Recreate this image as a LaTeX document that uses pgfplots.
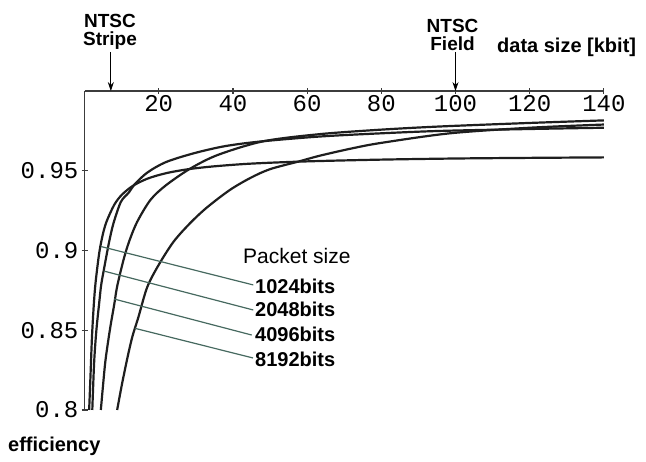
\documentclass[border=0pt]{standalone}
\usepackage{pgfplots}
\pgfplotsset{compat=1.18}
\usepackage{fontspec}
\setmainfont{Liberation Sans}
\setmonofont{Liberation Mono}
\usetikzlibrary{arrows.meta}
\definecolor{curve}{RGB}{30,30,30}
\definecolor{axisgray}{RGB}{60,60,60}
\definecolor{leader}{RGB}{70,105,95}
\begin{document}
\begin{tikzpicture}
\begin{axis}[
  scale only axis, width=519.5pt, height=319pt,
  xmin=0, xmax=140, ymin=0.8, ymax=1.0,
  axis x line=top, axis y line=left,
  axis line style={-, line width=1.3pt, color=axisgray},
  every inner x axis line/.append style={-},
  every outer x axis line/.append style={-},
  every inner y axis line/.append style={-},
  every outer y axis line/.append style={-},
  xtick={20,40,60,80,100,120,140},
  xticklabels={20,40,60,80,100,120,140},
  ytick={0.8,0.85,0.9,0.95},
  yticklabels={0.8,0.85,0.9,0.95},
  tick align=center, major tick length=6pt,
  tick style={line width=1.2pt, color=axisgray},
  /pgf/number format/assume math mode=true,
  xticklabel style={anchor=north, inner sep=0pt, yshift=-7pt, font=\ttfamily\fontsize{24}{24}\selectfont},
  yticklabel style={anchor=east, inner sep=0pt, xshift=-3pt, font=\ttfamily\fontsize{24}{24}\selectfont},
  clip=false,
]
% invisible frame fixing the picture size
\path (axis cs:-22.78,1.0571) rectangle (axis cs:151.35,0.7674);

% 1024 bits
\addplot[curve, line width=2.2pt, smooth] coordinates {
(1.25,0.800) (1.6,0.8206) (2,0.8452) (2.5,0.8659) (3,0.8803) (4,0.8990) (5,0.9107) (6,0.9185) (8,0.9286) (10,0.9348) (13,0.9405) (17,0.9451) (22,0.9485) (28,0.9510) (35,0.9528) (45,0.9545) (60,0.9559) (80,0.9570) (100,0.9577) (120,0.9581) (140,0.9584)};
% 2048 bits
\addplot[curve, line width=2.2pt, smooth] coordinates {
(2.1,0.800) (2.6,0.830) (3.2,0.850) (4,0.868) (4.5,0.8785) (5.3,0.889) (6.6,0.905) (7.8,0.917) (9.8,0.9305) (12,0.9365) (13.5,0.9415) (17,0.949) (22,0.9555) (29.5,0.961) (38,0.9655) (48,0.9685) (63.5,0.9715) (80,0.9735) (96,0.975) (120,0.9762) (140,0.977)};
% 4096 bits
\addplot[curve, line width=2.2pt, smooth] coordinates {
(4.4,0.800) (5.5,0.828) (6.3,0.842) (7.1,0.854) (8,0.866) (8.8,0.8775) (10.5,0.894) (12,0.9055) (14.2,0.918) (17.8,0.9318) (22,0.941) (28.6,0.9515) (36,0.960) (48.2,0.9685) (63.5,0.973) (80,0.9758) (96,0.9778) (120,0.980) (140,0.9816)};
% 8192 bits
\addplot[curve, line width=2.2pt, smooth] coordinates {
(8.8,0.800) (10,0.815) (11.5,0.832) (12.9,0.846) (14.5,0.858) (16.9,0.877) (20,0.891) (24,0.9055) (28.4,0.917) (33,0.927) (39.2,0.938) (44.7,0.9455) (50,0.951) (58,0.956) (63.5,0.9595) (72,0.964) (80,0.9675) (98.5,0.9735) (120,0.977) (140,0.979)};

% leader lines
\addplot[leader, line width=1.2pt] coordinates {(4.45,0.9025) (45.5,0.8784)};
\addplot[leader, line width=1.2pt] coordinates {(5.26,0.8871) (45.5,0.8627)};
\addplot[leader, line width=1.2pt] coordinates {(7.95,0.8696) (45.07,0.8470)};
\addplot[leader, line width=1.2pt] coordinates {(13.61,0.8512) (45.42,0.8326)};

% NTSC arrows
\draw[line width=1pt, -{Stealth[length=9pt,width=6pt]}] (axis cs:7.1,1.0245) -- (axis cs:7.1,1.0);
\draw[line width=1pt, -{Stealth[length=9pt,width=6pt]}] (axis cs:100,1.0245) -- (axis cs:100,1.0);

\tikzset{lab/.style={inner sep=0pt, font=\bfseries\fontsize{20}{20}\selectfont}}
\node[lab, anchor=south, align=center, font=\bfseries\fontsize{19}{17.5}\selectfont] at (axis cs:6.87,1.0262) {NTSC\\Stripe};
\node[lab, anchor=south, align=center, font=\bfseries\fontsize{19}{17.5}\selectfont] at (axis cs:99.2,1.0255) {NTSC\\Field};
\node[lab, anchor=base west] at (axis cs:111.19,1.02445) {data size [kbit]};
\node[lab, anchor=base west, font=\fontsize{21}{21}\selectfont] at (axis cs:42.72,0.89216) {Packet size};
\node[lab, anchor=base west] at (axis cs:45.96,0.87335) {1024bits};
\node[lab, anchor=base west] at (axis cs:45.96,0.85831) {2048bits};
\node[lab, anchor=base west] at (axis cs:45.96,0.84263) {4096bits};
\node[lab, anchor=base west] at (axis cs:45.96,0.82696) {8192bits};
\node[lab, anchor=base west] at (axis cs:-20.62,0.7737) {efficiency};
\end{axis}
\end{tikzpicture}
\end{document}
